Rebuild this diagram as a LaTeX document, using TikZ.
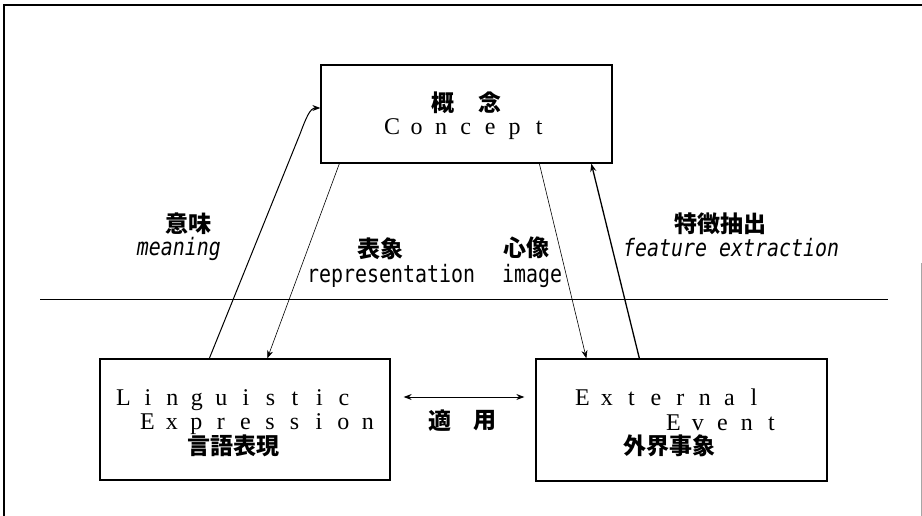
\documentclass[tikz,border=0pt]{standalone}
\usepackage{fontspec}
\setmainfont{Liberation Serif}
\newfontfamily\cjk{Noto Sans CJK JP}
\newfontfamily\labfont[FakeStretch=0.83]{DejaVu Sans Mono}
\usetikzlibrary{arrows.meta}
\newcommand\spaced[1]{\spacedloop#1\relax}
\def\spacedloop#1{\ifx\relax#1\else\makebox[24.5pt]{#1}\expandafter\spacedloop\fi}
\tikzset{
  boxnode/.style={draw, line width=1.3pt, inner sep=0pt},
  boxtext/.style={inner sep=0pt, anchor=base west, font=\fontsize{24}{28}\selectfont},
  cjklabel/.style={inner sep=0pt, font=\cjk\bfseries\fontsize{23}{26}\selectfont},
  cjkbox/.style={inner sep=0pt, font=\cjk\bfseries\fontsize{23}{26}\selectfont},
  latlabel/.style={inner sep=0pt, font=\labfont\fontsize{24}{28}\selectfont},
  itlabel/.style={inner sep=0pt, font=\labfont\itshape\fontsize{24}{28}\selectfont},
  conn/.style={line width=1pt, -{Stealth[length=8pt,width=6pt]}},
  thinconn/.style={line width=0.6pt, -{Stealth[length=8pt,width=6pt]}},
  frameline/.style={line width=1.5pt}
}
\begin{document}
\begin{tikzpicture}[x=1pt,y=-1pt]
\useasboundingbox (0,0) rectangle (922,516);
% frame
\draw[frameline] (4,516) -- (4,5) -- (922,5);
\draw[line width=0.8pt, black!35] (921,263) -- (921,516);
% divider
\draw[line width=1pt] (40,299) -- (888,299);
% boxes
\node[boxnode, minimum width=291pt, minimum height=98pt] (concept) at (466.5,114) {};
\node[boxnode, minimum width=290pt, minimum height=121pt] (ling) at (245,419.5) {};
\node[boxnode, minimum width=291pt, minimum height=122pt] (ext) at (681.5,420) {};
% box texts
\node[cjkbox] (gai) at (443,103) {概};
\node[cjkbox] (nen) at (490,103) {念};
\node[boxtext] (concepttxt) at (379.75,135) {\spaced{Concept}};
\node[boxtext] (lingtxt) at (111,405) {\spaced{Linguistic}};
\node[boxtext] (exprtxt) at (135,429) {\spaced{Expression}};
\node[cjkbox] (gengo) at (233,446) {言語表現};
\node[boxtext] (exttxt) at (570,405) {\spaced{External}};
\node[boxtext] (evtxt) at (661,430) {\spaced{Event}};
\node[cjkbox] (gaikai) at (669,446) {外界事象};
% labels
\node[cjklabel] (imi) at (188,224) {意味};
\node[itlabel, anchor=base east] (meaning) at (221,255) {meaning};
\node[cjklabel] (hyosho) at (380,249) {表象};
\node[latlabel, anchor=base west] (repr) at (307,282) {representation};
\node[cjklabel] (shinzo) at (526,248) {心像};
\node[latlabel, anchor=base west] (image) at (502,282) {image};
\node[cjklabel] (tokucho) at (720,224) {特徴抽出};
\node[itlabel, anchor=base west] (feat) at (623,256) {feature extraction};
\node[cjklabel] (teki) at (440,421) {適};
\node[cjklabel] (yo) at (485,421) {用};
% connectors
\draw[conn] ([xshift=110pt]ling.north west) -- (300,134)
  .. controls (306,118) and (310,108) .. ([yshift=6pt]concept.west);
\draw[thinconn] ([xshift=19pt]concept.south west) -- ([xshift=168pt]ling.north west);
\draw[thinconn] ([xshift=219pt]concept.south west) -- ([xshift=51pt]ext.north west);
\draw[conn, line width=1.3pt] ([xshift=104pt]ext.north west) -- ([xshift=271pt]concept.south west);
\draw[line width=1pt, {Stealth[length=8pt,width=6pt]}-{Stealth[length=8pt,width=6pt]}]
  ([shift={(13pt,22.5pt)}]ling.east) -- ([shift={(-11pt,23pt)}]ext.west);
\end{tikzpicture}
\end{document}
